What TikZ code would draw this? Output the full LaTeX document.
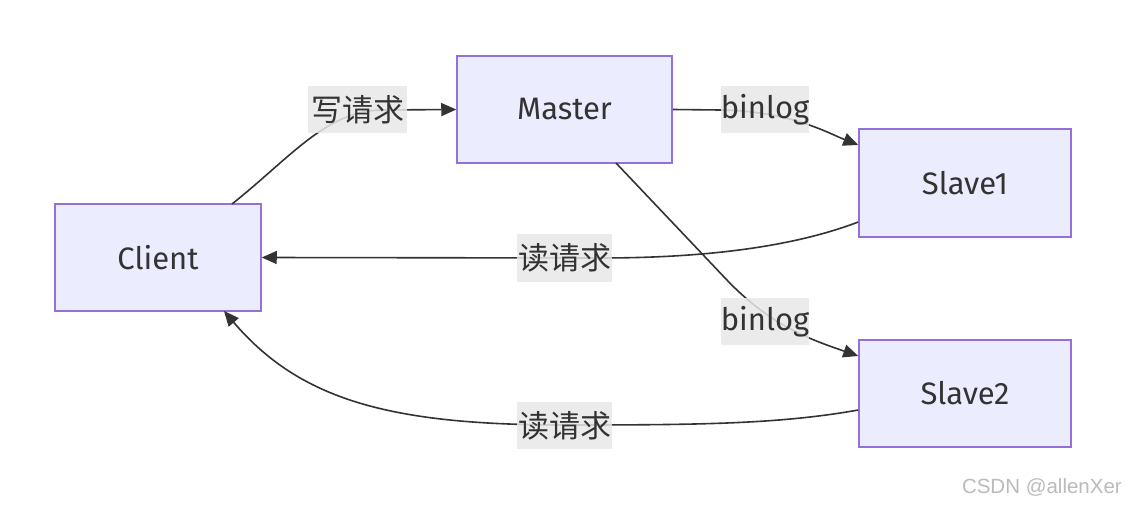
\documentclass[tikz,border=0pt]{standalone}
\usepackage{fontspec}
\setmainfont{Fira Sans}
\newfontfamily\cjk{Noto Sans CJK SC}
\newfontfamily\wmfont{Liberation Sans}
\usetikzlibrary{arrows.meta}
\definecolor{nodefill}{HTML}{ECECFF}
\definecolor{nodeborder}{HTML}{9370DB}
\definecolor{ink}{HTML}{333333}
\definecolor{labelbg}{HTML}{E8E8E8}
\definecolor{wm}{HTML}{BBBBBB}
\tikzset{
  box/.style={draw=nodeborder, fill=nodefill, line width=1.5pt, minimum width=213pt, minimum height=107pt, inner sep=0pt, text=ink, font=\fontsize{31}{34}\selectfont},
  edgelabel/.style={fill=labelbg, fill opacity=0.85, text opacity=1, text=ink, inner sep=0pt, minimum height=47pt, font=\fontsize{31}{34}\selectfont},
  conn/.style={draw=ink, line width=1.6pt, -{Triangle[length=15pt,width=13pt]}},
}
\begin{document}
\begin{tikzpicture}[x=1pt,y=-1pt]
\fill[white] (0,0) rectangle (1127,505);
\useasboundingbox (0,0) rectangle (1127,505);
% nodes
\node[box, minimum width=206pt] (client) at (158,257.5) {Client};
\node[box, minimum width=215pt] (master) at (564.5,109.5) {Master};
\node[box, minimum width=212pt, minimum height=108pt] (slave1) at (965,183) {Slave1};
\node[box, minimum width=212pt] (slave2) at (965,393.5) {Slave2};
% anchor coordinates
\coordinate (cTop) at (232,204);
\coordinate (cBot) at (224,311);
\coordinate (mOut2) at (616,163);
% edges
\draw[conn] (cTop) .. controls (290,158) and (325,112) .. (380,110) -- (master.west);
\draw[conn] (master.east) -- (720,110) .. controls (790,111) and (828,133) .. (slave1.west |- 0,145);
\draw[conn] (slave1.west |- 0,222) .. controls (790,248) and (700,258) .. (600,258) -- (client.east);
\draw[conn] (mOut2) -- (725,278) .. controls (770,326) and (812,340) .. (slave2.west |- 0,356);
\draw[conn] (slave2.west |- 0,410) .. controls (780,424) and (700,425) .. (565,425) .. controls (390,425) and (300,400) .. (cBot);
% labels
\node[edgelabel, minimum width=99pt] (l1) at (357.5,109.5) {\cjk 写请求};
\node[edgelabel, minimum width=86pt] (l2) at (765,109.5) {binlog};
\node[edgelabel, minimum width=95pt] (l3) at (564.5,258) {\cjk 读请求};
\node[edgelabel, minimum width=86pt] (l4) at (765,321.5) {binlog};
\node[edgelabel, minimum width=95pt] (l5) at (564.5,425.5) {\cjk 读请求};
% watermark
\node[anchor=east, text=wm, inner sep=0pt, font=\wmfont\fontsize{20.5}{24}\selectfont] (wmark) at (1122,487) {CSDN @allenXer};
\end{tikzpicture}
\end{document}
